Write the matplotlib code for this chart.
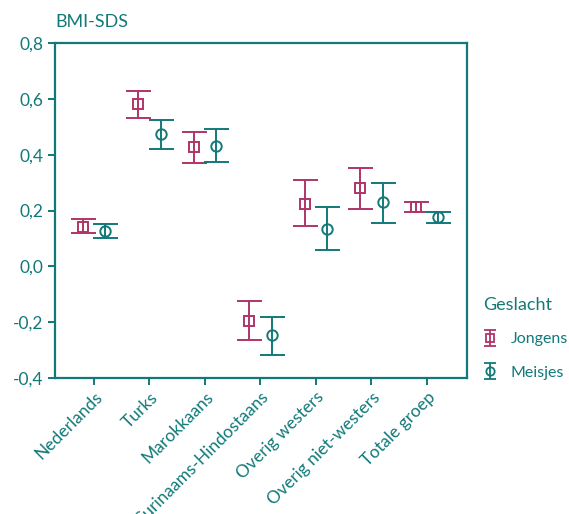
import matplotlib
matplotlib.use("Agg")
import matplotlib.pyplot as plt
from matplotlib.ticker import FuncFormatter
import numpy as np

plt.rcParams['font.family'] = ['Lato', 'DejaVu Sans']

groups = ['Nederlands', 'Turks', 'Marokkaans', 'Surinaams-Hindostaans',
          'Overig westers', 'Overig niet-westers', 'Totale groep']

# Jongens: mean, lower, upper
jong_mean = [0.142, 0.580, 0.426, -0.195, 0.225, 0.279, 0.214]
jong_low = [0.121, 0.531, 0.369, -0.264, 0.146, 0.207, 0.196]
jong_high = [0.171, 0.628, 0.480, -0.123, 0.308, 0.351, 0.232]

# Meisjes: mean, lower, upper
meis_mean = [0.125, 0.473, 0.430, -0.246, 0.135, 0.229, 0.178]
meis_low = [0.103, 0.419, 0.373, -0.318, 0.060, 0.157, 0.157]
meis_high = [0.153, 0.523, 0.491, -0.181, 0.214, 0.297, 0.193]

yticks = [-0.4, -0.2, 0.0, 0.2, 0.4, 0.6, 0.8]

teal = '#12797a'
magenta = '#b03468'

fig = plt.figure(figsize=(5.69, 5.14), dpi=100)
ax = fig.add_axes([0.0967, 0.2646, 0.7240, 0.6517])

x = np.arange(len(groups))
off = 0.2

jm = np.array(jong_mean)
mm = np.array(meis_mean)
jerr = [jm - np.array(jong_low), np.array(jong_high) - jm]
merr = [mm - np.array(meis_low), np.array(meis_high) - mm]

ax.errorbar(x - off, jm, yerr=jerr, fmt='s', color=magenta, mfc='none',
            mec=magenta, ms=7.5, mew=1.4, elinewidth=1.4, capsize=9,
            capthick=1.4)
ax.errorbar(x + off, mm, yerr=merr, fmt='o', color=teal, mfc='none',
            mec=teal, ms=7.5, mew=1.4, elinewidth=1.4, capsize=9,
            capthick=1.4)

# legend proxies with small caps
pj = ax.errorbar([np.nan], [np.nan], yerr=[np.nan], fmt='s', color=magenta,
                 mfc='none', mec=magenta, ms=6, mew=1.3, elinewidth=1.3,
                 capsize=4, capthick=1.3, label='Jongens')
pm = ax.errorbar([np.nan], [np.nan], yerr=[np.nan], fmt='o', color=teal,
                 mfc='none', mec=teal, ms=6, mew=1.3, elinewidth=1.3,
                 capsize=4, capthick=1.3, label='Meisjes')

ax.set_xlim(-0.7, 6.72)
ax.set_ylim(-0.4, 0.8)
ax.set_yticks(yticks)
ax.yaxis.set_major_formatter(FuncFormatter(lambda v, p: f"{v:.1f}".replace('.', ',')))
ax.set_xticks(x)
ax.set_xticklabels(groups, rotation=45, ha='right', rotation_mode='anchor')

for s in ax.spines.values():
    s.set_color(teal)
    s.set_linewidth(1.6)
ax.tick_params(colors=teal, labelcolor=teal, labelsize=12.5, width=1.4,
               length=5, direction='out')
ax.tick_params(axis='x', pad=3)

fig.text(0.097, 0.957, 'BMI-SDS', color=teal, fontsize=13, ha='left', va='center')

leg = ax.legend(handles=[pj, pm], loc='upper left', bbox_to_anchor=(1.005, 0.285),
                frameon=False, title='Geslacht', fontsize=11.5,
                title_fontsize=13, handletextpad=0.9, labelspacing=1.2,
                handlelength=0.8, alignment='left')
leg.get_title().set_color(teal)
for t in leg.get_texts():
    t.set_color(teal)

fig.savefig('out.png', dpi=100)
